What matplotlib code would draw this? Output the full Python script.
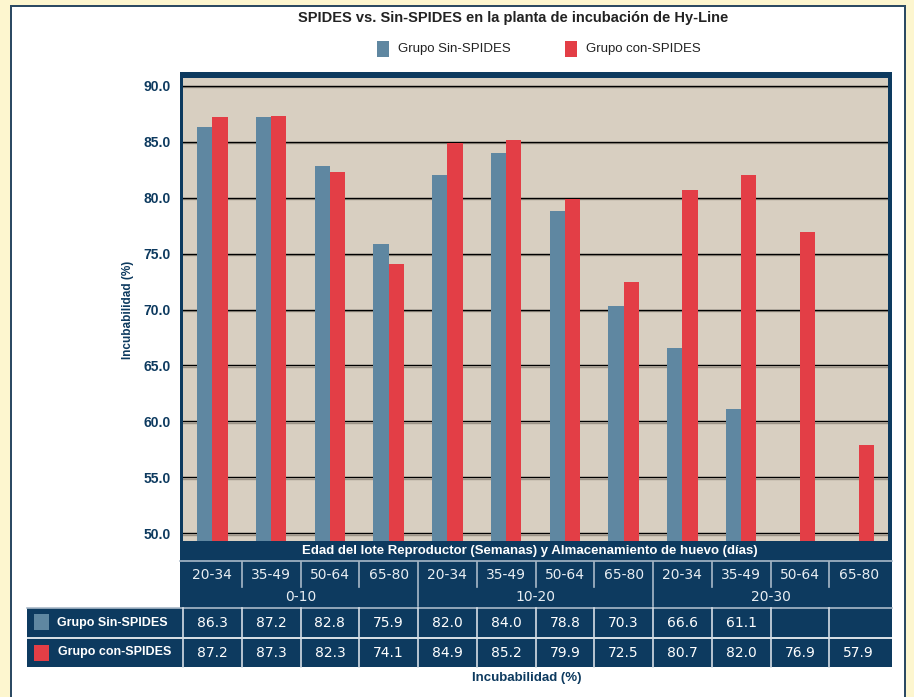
import numpy as np
import matplotlib
matplotlib.use('Agg')
import matplotlib.pyplot as plt
from matplotlib.patches import Rectangle
from matplotlib.transforms import blended_transform_factory
import matplotlib.patheffects as pe

edades = ['20-34', '35-49', '50-64', '65-80'] * 3
almacen = ['0-10', '10-20', '20-30']
sin_spides = [86.3, 87.2, 82.8, 75.9, 82.0, 84.0, 78.8, 70.3, 66.6, 61.1, np.nan, np.nan]
con_spides = [87.2, 87.3, 82.3, 74.1, 84.9, 85.2, 79.9, 72.5, 80.7, 82.0, 76.9, 57.9]
yticks = [50, 55, 60, 65, 70, 75, 80, 85, 90]

navy = '#0d3a5f'
azul = '#5f87a1'
rojo = '#e33e46'
beige = '#d8cfc1'
amarillo = '#fdf6cf'
linea = '#a9b9c8'

W, H = 914, 697
fig = plt.figure(figsize=(W / 100, H / 100), dpi=100, facecolor=amarillo)

def fx(x):
    return x / W

def fy(y):
    return 1 - y / H

def caja(x0, y0, x1, y1, color, **kw):
    fig.add_artist(Rectangle((fx(x0), fy(y1)), fx(x1) - fx(x0), fy(y0) - fy(y1),
                             transform=fig.transFigure, facecolor=color,
                             edgecolor='none', **kw))

# white panel with dark border
caja(10, 5, 906, 720, '#2c4a63', zorder=0)
caja(12, 7, 904, 720, 'white', zorder=0)
# navy frame around plot
caja(180, 72, 892, 545, navy, zorder=0)

helv = ['Liberation Sans', 'DejaVu Sans']

fig.text(fx(513), fy(18), 'SPIDES vs. Sin-SPIDES en la planta de incubación de Hy-Line',
         ha='center', va='center', fontsize=10.5, fontweight='bold',
         family=helv, color='#222222')

# legend at top
caja(377, 41, 389, 57, azul)
fig.text(fx(398), fy(49), 'Grupo Sin-SPIDES', ha='left', va='center',
         fontsize=9.5, family=helv, color='#222222')
caja(565, 41, 577, 57, rojo)
fig.text(fx(586), fy(49), 'Grupo con-SPIDES', ha='left', va='center',
         fontsize=9.5, family=helv, color='#222222')

# main axes
ax = fig.add_axes([fx(183), fy(541), fx(888) - fx(183), fy(78) - fy(541)])
ax.set_facecolor(beige)
x = np.arange(len(edades))
bw = 0.26
ax.bar(x - bw / 2, sin_spides, width=bw, color=azul, zorder=3)
ax.bar(x + bw / 2, con_spides, width=bw, color=rojo, zorder=3)
for t in yticks:
    ax.axhline(t, color='black', lw=1.0, zorder=1,
               path_effects=[pe.SimpleLineShadow(offset=(0, -1.2), shadow_color='#9c9488', alpha=1),
                             pe.Normal()])
ax.set_ylim(49.3, 90.7)
ax.set_xlim(-0.5, len(edades) - 0.5)
ax.set_yticks(yticks)
ax.set_yticklabels(['%.1f' % t for t in yticks], fontsize=10, fontweight='bold',
                   family=helv, color=navy)
ax.tick_params(axis='y', length=0, pad=9)
ax.set_xticks([])
for s in ax.spines.values():
    s.set_visible(False)
ax.set_ylabel('Incubabilidad (%)', fontsize=8.5, fontweight='bold', family=helv,
              color=navy, labelpad=7)

# table below the plot, columns follow the x scale of the axes
tr = blended_transform_factory(ax.transData, fig.transFigure)
caja(180, 541, 892, 608, navy)
caja(27, 608, 892, 667, navy)

fig.text(fx(530), fy(551), 'Edad del lote Reproductor (Semanas) y Almacenamiento de huevo (días)',
         ha='center', va='center', fontsize=9.5, fontweight='bold', family=helv, color='white')

fig.add_artist(plt.Line2D([fx(180), fx(892)], [fy(561), fy(561)], color=linea, lw=1.2,
                          transform=fig.transFigure))
fig.add_artist(plt.Line2D([fx(27), fx(892)], [fy(608), fy(608)], color=linea, lw=1.2,
                          transform=fig.transFigure))
fig.add_artist(plt.Line2D([fx(27), fx(892)], [fy(637.5), fy(637.5)], color='white', lw=1.2,
                          transform=fig.transFigure))

for i, e in enumerate(edades):
    fig.text(i, fy(575), e, transform=tr, ha='center', va='center',
             fontsize=10, family='DejaVu Sans', color='#e8eef3')
    if i > 0:
        y_end = 606 if i % 4 == 0 else 587
        fig.add_artist(plt.Line2D([i - 0.5, i - 0.5], [fy(562), fy(y_end)], color=linea,
                                  lw=1.2, transform=tr))
    fig.add_artist(plt.Line2D([i - 0.5, i - 0.5], [fy(608), fy(667)], color='#d5dde5',
                              lw=1.2, transform=tr))
    v1 = sin_spides[i]
    v2 = con_spides[i]
    if not np.isnan(v1):
        fig.text(i, fy(623), '%.1f' % v1, transform=tr, ha='center', va='center',
                 fontsize=10, family='DejaVu Sans', color='white')
    if not np.isnan(v2):
        fig.text(i, fy(653), '%.1f' % v2, transform=tr, ha='center', va='center',
                 fontsize=10, family='DejaVu Sans', color='white')

for g, a in enumerate(almacen):
    fig.text(g * 4 + 1.5, fy(597), a, transform=tr, ha='center', va='center',
             fontsize=10, family='DejaVu Sans', color='#e8eef3')

# row labels
caja(34, 614, 49, 630, azul)
fig.text(fx(57), fy(623), 'Grupo Sin-SPIDES', ha='left', va='center',
         fontsize=9, fontweight='bold', family=helv, color='white')
caja(34, 645, 49, 661, rojo)
fig.text(fx(58), fy(652), 'Grupo con-SPIDES', ha='left', va='center',
         fontsize=9, fontweight='bold', family=helv, color='white')

fig.text(fx(527), fy(678), 'Incubabilidad (%)', ha='center', va='center',
         fontsize=9.5, fontweight='bold', family=helv, color=navy)

fig.savefig('out.png', dpi=100, facecolor=amarillo)
